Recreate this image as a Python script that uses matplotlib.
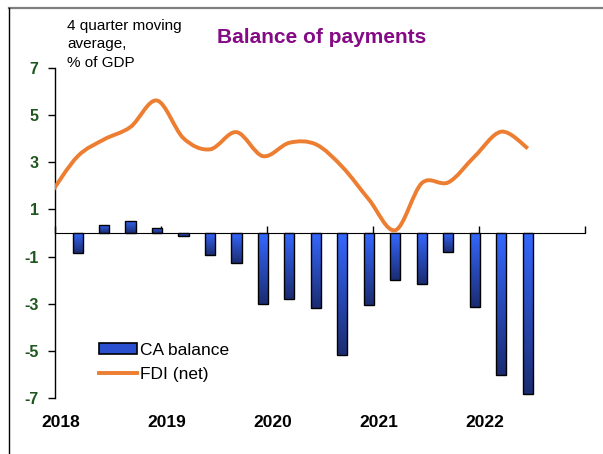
import numpy as np
import matplotlib
matplotlib.use("Agg")
import matplotlib.pyplot as plt
from matplotlib.path import Path
from matplotlib.patches import PathPatch, Patch
from matplotlib.lines import Line2D
from matplotlib.colors import LinearSegmentedColormap

plt.rcParams['font.family'] = ['Liberation Sans', 'DejaVu Sans']
plt.rcParams['axes.unicode_minus'] = False

# quarterly data, 4 quarter moving average, % of GDP
quarters = ['2018Q1', '2018Q2', '2018Q3', '2018Q4',
            '2019Q1', '2019Q2', '2019Q3', '2019Q4',
            '2020Q1', '2020Q2', '2020Q3', '2020Q4',
            '2021Q1', '2021Q2', '2021Q3', '2021Q4',
            '2022Q1', '2022Q2']
ca_balance = [-0.85, 0.35, 0.52, 0.22,
              -0.11, -0.94, -1.29, -3.01,
              -2.81, -3.19, -5.19, -3.05,
              -1.99, -2.17, -0.81, -3.15,
              -6.02, -6.84]

fdi_quarters = ['2017Q4'] + quarters
fdi_net = [1.7, 3.25, 3.97, 4.5, 5.62,
           4.02, 3.55, 4.28, 3.26,
           3.83, 3.76, 2.8, 1.42,
           0.12, 2.12, 2.15, 3.26,
           4.3, 3.59]

years = [2018, 2019, 2020, 2021, 2022]
yticks = [7, 5, 3, 1, -1, -3, -5, -7]

blue_top = '#3568FF'
blue_bottom = '#1B2C72'
orange = '#ED7D31'
green = '#1E561E'
purple = '#850A85'


def qpos(label):
    # position of a quarter on a decimal-year axis
    return int(label[:4]) + (int(label[-1]) - 1) * 0.25 + 0.21


fig = plt.figure(figsize=(6.03, 4.54), dpi=100)
ax = fig.add_axes([0.0917, 0.1233, 0.8786, 0.7269])

# bars with vertical gradient fill
xs = [qpos(q) for q in quarters]
w = 0.095
grad_cmap = LinearSegmentedColormap.from_list('bars', [blue_top, blue_bottom])
grad = np.linspace(0, 1, 64).reshape(-1, 1)
bars = ax.bar(xs, ca_balance, width=w, facecolor='none', edgecolor='black',
              linewidth=1.0, zorder=3)
for x, v, b in zip(xs, ca_balance, bars):
    im = ax.imshow(grad, extent=(x - w / 2, x + w / 2, min(v, 0), max(v, 0)),
                   origin='upper', cmap=grad_cmap, aspect='auto', zorder=2)
    im.set_clip_path(b)

# smoothed FDI line (cubic bezier through quarterly points)
fx = np.array([qpos(q) for q in fdi_quarters])
fy = np.array(fdi_net)
verts = [(fx[0], fy[0])]
codes = [Path.MOVETO]
n = len(fx)
for i in range(n - 1):
    p0 = np.array([fx[max(i - 1, 0)], fy[max(i - 1, 0)]])
    p1 = np.array([fx[i], fy[i]])
    p2 = np.array([fx[i + 1], fy[i + 1]])
    p3 = np.array([fx[min(i + 2, n - 1)], fy[min(i + 2, n - 1)]])
    c1 = p1 + (p2 - p0) / 6
    c2 = p2 - (p3 - p1) / 6
    verts += [tuple(c1), tuple(c2), tuple(p2)]
    codes += [Path.CURVE4] * 3
ax.add_patch(PathPatch(Path(verts, codes), facecolor='none', edgecolor=orange,
                       linewidth=2.8, capstyle='butt', zorder=4))

ax.set_xlim(2018, 2023)
ax.set_ylim(-7, 7)

# axes styling
for s in ['top', 'right', 'bottom']:
    ax.spines[s].set_visible(False)
ax.spines['left'].set_linewidth(1.0)
ax.set_yticks(yticks)
ax.tick_params(axis='y', direction='out', length=5, width=1, pad=7,
               labelsize=11.5, labelcolor=green)
for t in ax.get_yticklabels():
    t.set_fontweight('bold')

ax.set_xticks([y + 0.05 for y in years])
ax.set_xticklabels([str(y) for y in years], fontsize=12.5, fontweight='bold')
ax.tick_params(axis='x', length=0, pad=12)

# zero line carrying the year ticks
zero = ax.secondary_xaxis(0.5)
zero.set_xticks(years + [2023])
zero.tick_params(direction='out', length=5, width=1, labelbottom=False,
                 labeltop=False)
zero.spines['bottom'].set_linewidth(1.0)

# legend
handles = [Patch(facecolor='#2A50D0', edgecolor='black', linewidth=1.2),
           Line2D([], [], color=orange, linewidth=2.8)]
ax.legend(handles, ['CA balance', 'FDI (net)'], loc='lower left',
          bbox_to_anchor=(0.066, 0.022), frameon=False, fontsize=12.5,
          handlelength=2.2, handleheight=0.6, handletextpad=0.15,
          labelspacing=0.55, borderpad=0)

fig.text(0.534, 0.9185, 'Balance of payments', color=purple, fontsize=15,
         fontweight='bold', ha='center', va='center')
fig.text(0.111, 0.958, '4 quarter moving\naverage,\n% of GDP', fontsize=11,
         ha='left', va='top', linespacing=1.4)

# chart area border (top and left)
fig.add_artist(Line2D([0.0149, 1.0], [0.9824, 0.9824], color='#7f7f7f',
                      linewidth=1.6, transform=fig.transFigure))
fig.add_artist(Line2D([0.0149, 0.0149], [0.0, 0.9824], color='black',
                      linewidth=1.0, transform=fig.transFigure))

fig.savefig('out.png', dpi=100)
